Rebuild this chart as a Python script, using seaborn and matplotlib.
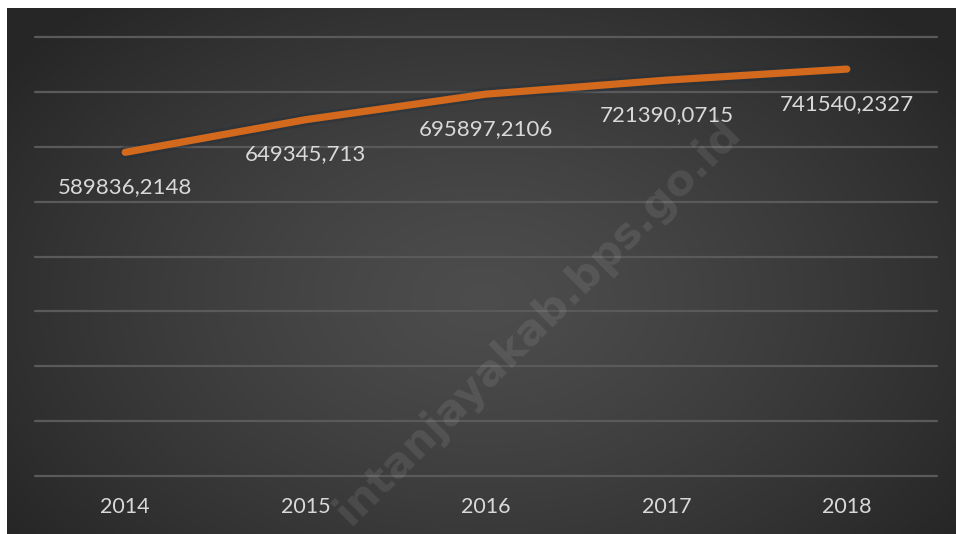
"""
Line chart — yearly values 2014-2018 on a dark radial-gradient panel,
data labels below each point, diagonal site watermark.
"""

import matplotlib
matplotlib.use("Agg")
import matplotlib.pyplot as plt
import matplotlib.patheffects as pe
import numpy as np
import pandas as pd
import seaborn as sns

# ---------------------------------------------------------------------------
# Data
# ---------------------------------------------------------------------------
YEARS = ["2014", "2015", "2016", "2017", "2018"]
VALUES = [589836.2148, 649345.713, 695897.2106, 721390.0715, 741540.2327]
VALUE_LABELS = ["589836,2148", "649345,713", "695897,2106", "721390,0715", "741540,2327"]
Y_TICKS = [0, 100000, 200000, 300000, 400000, 500000, 600000, 700000, 800000]
WATERMARK = "intanjayakab.bps.go.id"

TEXT_COLOR = "#d9d9d9"
GRID_COLOR = "#5a5a5a"
LINE_COLOR = "#d2691c"
FONT = ["Lato", "DejaVu Sans"]

W_PX, H_PX, DPI = 956, 534, 100


def px_box(left, top, right, bottom):
    """Pixel box (from top-left) -> figure fraction rect."""
    return [left / W_PX, 1 - bottom / H_PX, (right - left) / W_PX, (bottom - top) / H_PX]


def draw_background(fig):
    bg = fig.add_axes(px_box(7, 8, W_PX, H_PX), zorder=0)
    h, w = 300, 540
    yy, xx = np.mgrid[0:h, 0:w]
    cx, cy = w * 0.5, h * 0.55
    r = np.sqrt(((xx - cx) / (w * 0.62)) ** 2 + ((yy - cy) / (h * 0.75)) ** 2)
    r = np.clip(r, 0, 1)
    shade = 0.30 - 0.15 * r ** 1.3
    img = np.dstack([shade, shade, shade])
    bg.imshow(img, aspect="auto", extent=[0, 1, 0, 1], interpolation="bicubic")
    bg.set_axis_off()


def main():
    sns.set_theme(style="white")
    plt.rcParams["font.family"] = FONT

    df = pd.DataFrame({"year": YEARS, "value": VALUES})

    fig = plt.figure(figsize=(W_PX / DPI, H_PX / DPI), dpi=DPI, facecolor="white")
    draw_background(fig)

    ax = fig.add_axes(px_box(35, 37, 937, 476), zorder=1)
    ax.patch.set_alpha(0)

    sns.lineplot(
        data=df, x="year", y="value", ax=ax, color=LINE_COLOR, linewidth=5.2,
        solid_capstyle="round", solid_joinstyle="round", sort=False, zorder=3,
        path_effects=[pe.Stroke(linewidth=9, foreground="#26303a", alpha=0.45), pe.Normal()],
    )

    for i, (v, lab) in enumerate(zip(VALUES, VALUE_LABELS)):
        ax.annotate(lab, (i, v), xytext=(0, -25), textcoords="offset points",
                    ha="center", va="center", fontsize=16, color=TEXT_COLOR, zorder=4)

    ax.set_xlim(-0.5, len(YEARS) - 0.5)
    ax.set_ylim(Y_TICKS[0], Y_TICKS[-1])
    ax.set_yticks(Y_TICKS)
    ax.set_yticklabels([])
    for t in Y_TICKS:
        ax.axhline(t, color=GRID_COLOR, linewidth=1.6, zorder=1, clip_on=False)

    ax.tick_params(axis="x", length=0, pad=15, labelsize=15.5, labelcolor=TEXT_COLOR)
    ax.tick_params(axis="y", length=0)
    ax.set_xlabel("")
    ax.set_ylabel("")
    for s in ax.spines.values():
        s.set_visible(False)

    # site watermark
    fig.text(538 / W_PX, 1 - 322 / H_PX, WATERMARK, rotation=45, ha="center", va="center",
             fontsize=31, fontweight="bold", color="white", alpha=0.09,
             family=["DejaVu Sans"], zorder=5)

    fig.savefig("out.png", dpi=DPI, facecolor="white")
    plt.close(fig)


if __name__ == "__main__":
    main()
